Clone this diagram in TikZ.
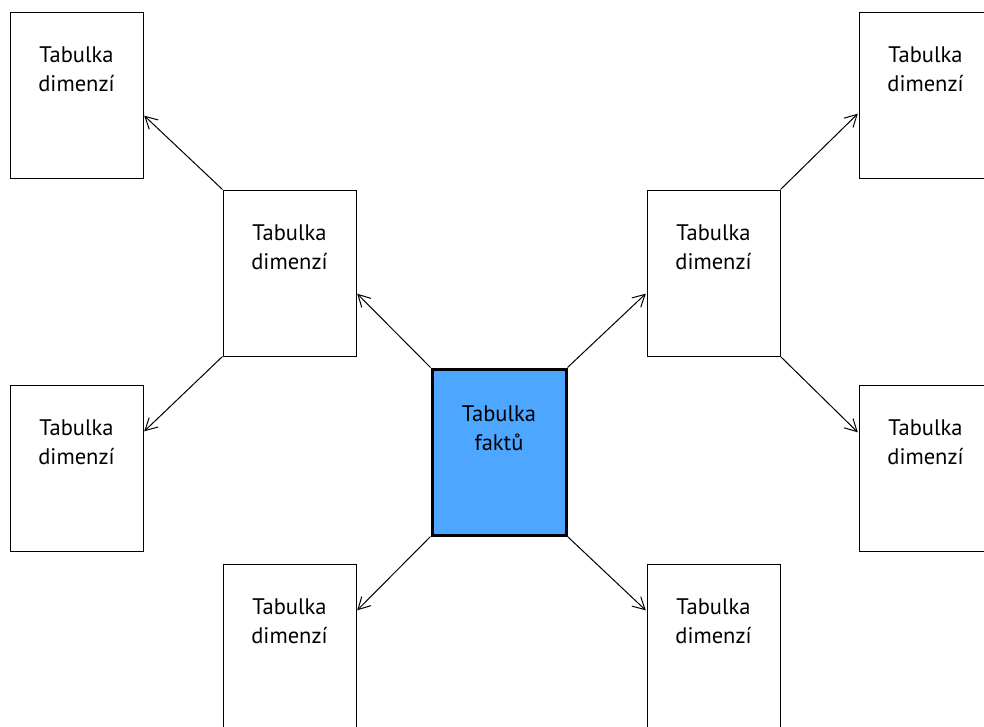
\documentclass[tikz,border=0pt]{standalone}
\usepackage{fontspec}
\setmainfont{PT Sans}
\usetikzlibrary{arrows.meta}
\definecolor{factblue}{HTML}{4DA6FF}
\tikzset{
  dimbox/.style={draw=black, line width=1pt, minimum width=133pt, minimum height=166pt, inner sep=0pt, fill=white},
  factbox/.style={draw=black, line width=3pt, minimum width=134pt, minimum height=166pt, inner sep=0pt, fill=factblue},
  boxtext/.style={align=center, anchor=north, inner sep=0pt, font=\fontsize{22.5}{29}\selectfont},
  arr/.style={-{Straight Barb[length=12pt,width=13pt]}, line width=1pt, shorten >=1pt}
}
\begin{document}
\begin{tikzpicture}[x=1pt,y=-1pt]
\useasboundingbox (0,0) rectangle (984,726);
\clip (0,0) rectangle (984,726);
\node[dimbox] (TL) at (76.5,95) {};
\node[dimbox] (ML) at (289.5,273) {};
\node[dimbox] (L) at (76.5,468.5) {};
\node[factbox] (C) at (499,452) {};
\node[dimbox] (BL) at (289.5,647) {};
\node[dimbox] (BR) at (713.5,647) {};
\node[dimbox] (MR) at (713.5,273) {};
\node[dimbox] (TR) at (925.5,95) {};
\node[dimbox] (R) at (925.5,468.5) {};
\foreach \b in {TL,ML,L,BL,BR,MR,TR,R}{
  \node[boxtext] at ([yshift=-35pt]\b.north) {Tabulka\\dimenzí};
}
\node[boxtext] at ([yshift=-38pt]C.north) {Tabulka\\faktů};
\draw[arr] (C.north west) -- ([yshift=-20pt]ML.east);
\draw[arr] (ML.north west) -- ([yshift=-20pt]TL.east);
\draw[arr] (ML.south west) -- ([yshift=36.5pt]L.east);
\draw[arr] (C.south west) -- ([yshift=36pt]BL.east);
\draw[arr] (C.south east) -- ([yshift=36pt]BR.west);
\draw[arr] (C.north east) -- ([yshift=-20pt]MR.west);
\draw[arr] (MR.north east) -- ([yshift=-18pt]TR.west);
\draw[arr] (MR.south east) -- ([yshift=35.5pt]R.west);
\end{tikzpicture}
\end{document}
